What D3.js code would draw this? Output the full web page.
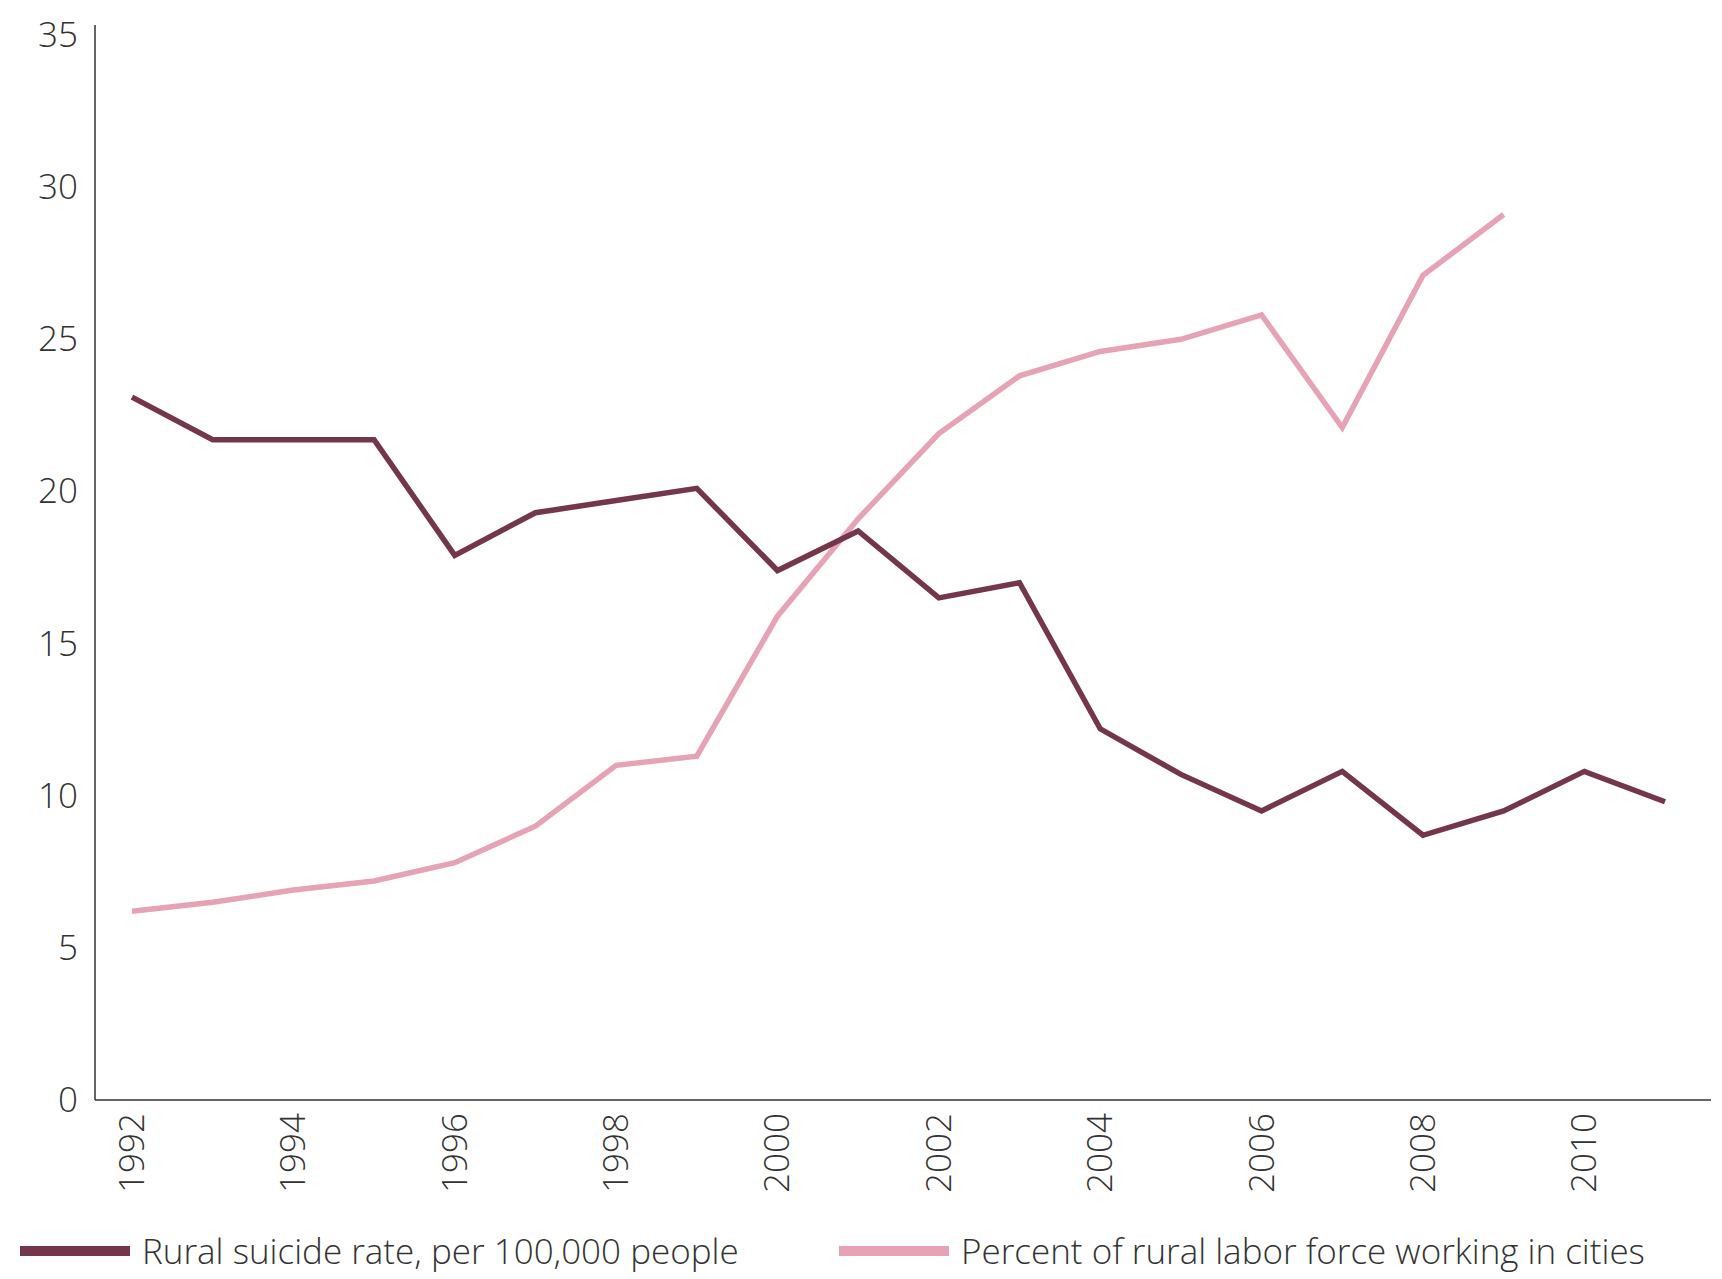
<!DOCTYPE html><html><head><meta charset="utf-8"><script src="https://cdn.jsdelivr.net/npm/d3@7"></script>
<style>body{margin:0;background:#fff}text{font-family:"Open Sans",Lato,sans-serif;font-weight:300;fill:#333}</style></head><body><svg id="c" width="1722" height="1279"></svg><script>
const years=d3.range(1992,2012);
const suicide=[23.1,21.7,21.7,21.7,17.9,19.3,19.7,20.1,17.4,18.7,16.5,17.0,12.2,10.7,9.5,10.8,8.7,9.5,10.8,9.8];
const labor=[6.2,6.5,6.9,7.2,7.8,9.0,11.0,11.3,15.9,19.1,21.9,23.8,24.6,25.0,25.8,22.1,27.1,29.1];
const yTicks=[0,5,10,15,20,25,30,35];
const xTicks=[1992,1994,1996,1998,2000,2002,2004,2006,2008,2010];
const svg=d3.select("#c");
const x=d3.scaleLinear().domain([1992,2011]).range([132,1665]);
const y=d3.scaleLinear().domain([0,35]).range([1100,35]);
svg.append("line").attr("x1",95).attr("x2",95).attr("y1",25).attr("y2",1100).attr("stroke","#333").attr("stroke-width",1.5);
svg.append("line").attr("x1",95).attr("x2",1711).attr("y1",1100).attr("y2",1100).attr("stroke","#333").attr("stroke-width",1.5);
svg.selectAll(".yt").data(yTicks).join("text").attr("x",78).attr("y",d=>y(d)+12).attr("text-anchor","end").attr("font-size",35).text(d=>d);
svg.selectAll(".xt").data(xTicks).join("text").attr("transform",d=>`translate(${x(d)+12},1113) rotate(-90)`).attr("text-anchor","end").attr("font-size",35).text(d=>d);
const line=d3.line().x((d,i)=>x(years[i])).y(d=>y(d));
svg.append("path").attr("d",line(labor)).attr("fill","none").attr("stroke","#e6a3b5").attr("stroke-width",5.5);
svg.append("path").attr("d",line(suicide)).attr("fill","none").attr("stroke","#74364b").attr("stroke-width",5.5);
const leg=[["Rural suicide rate, per 100,000 people","#74364b",20],["Percent of rural labor force working in cities","#e6a3b5",839]];
leg.forEach(([t,c,lx])=>{svg.append("rect").attr("x",lx).attr("y",1246).attr("width",110).attr("height",10).attr("fill",c);
svg.append("text").attr("x",lx+122).attr("y",1264).attr("font-size",35).text(t);});
</script></body></html>
